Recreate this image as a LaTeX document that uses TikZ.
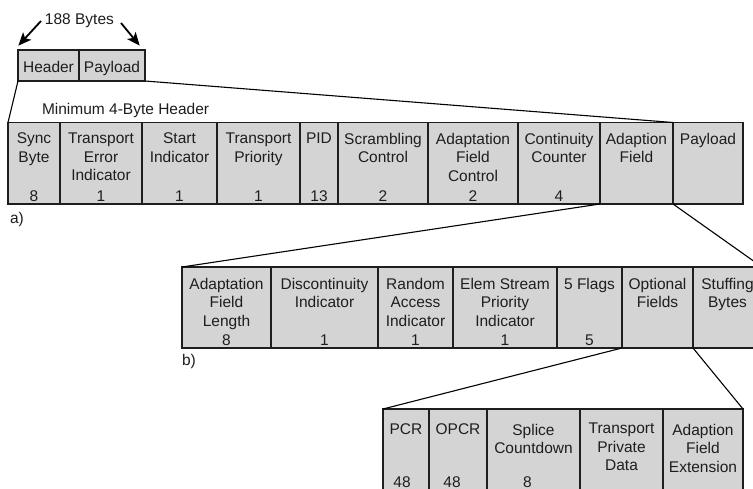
\documentclass[tikz,border=0pt]{standalone}
\usepackage{fontspec}
\setmainfont{Liberation Sans}
\usetikzlibrary{arrows.meta}

\definecolor{fieldfill}{HTML}{D4D4D4}
\definecolor{ink}{HTML}{1E1E1E}

% One field of a packet layout:
% #1 name, #2 left x, #3 right x, #4 top y, #5 bottom y,
% #6 field name, #7 bit count, #8 drop of the name below the top, #9 shift of the count
\newcommand\fieldcell[9]{%
  \pgfmathsetmacro\cellw{#3-#2}%
  \pgfmathsetmacro\cellh{#5-#4}%
  \node[fieldbox, minimum width=\cellw pt, minimum height=\cellh pt, anchor=north west] (#1) at (#2,#4) {};
  \node[fieldlabel] (#1-label) at ([yshift=-#8pt]#1.north) {#6};
  \ifx\relax#7\relax\else
    \node[fieldnum] (#1-num) at ([xshift=#9pt,yshift=2.5pt]#1.south) {#7};
  \fi
}

\begin{document}
\begin{tikzpicture}[x=1pt,y=-1pt,
  every node/.style={font=\fontsize{15.5}{18.5}\selectfont, text=ink, inner sep=0pt, outer sep=0pt},
  fieldbox/.style={draw=ink, fill=fieldfill, line width=1.5pt, rectangle},
  fieldlabel/.style={align=center, anchor=north},
  fieldnum/.style={anchor=base},
  caption/.style={anchor=base west},
  link/.style={draw=black, line width=1.1pt},
  pointer/.style={draw=black, line width=1.8pt, shorten >=0.5pt, -{Stealth[length=13pt,width=11pt,inset=3pt]}},
]
\useasboundingbox (0,0) rectangle (753,489);
\clip (0,0) rectangle (753,489);

% whole transport packet
\node[caption] (size) at (45,25) {188 Bytes};
\fieldcell{hdr}{18}{79}{50}{81}{Header}{}{11}{0}
\fieldcell{pay}{79}{145}{50}{81}{Payload}{}{11}{0}
\coordinate (sizeL) at (41,21);
\coordinate (sizeR) at (121,23);
\coordinate (payTip) at (140,46);
\coordinate (hdrTip) at (18,46);
\draw[pointer] (sizeL) -- (hdrTip);
\draw[pointer] (sizeR) -- (payTip);

% a) packet header
\node[caption] (minhdr) at (42,115) {Minimum 4-Byte Header};
\fieldcell{sync}{8}{60}{122.5}{204}{Sync\\Byte}{8}{10.5}{0}
\fieldcell{tei}{60}{142}{122.5}{204}{Transport\\Error\\Indicator}{1}{10.5}{0}
\fieldcell{start}{142}{217}{122.5}{204}{Start\\Indicator}{1}{10.5}{0}
\fieldcell{prio}{217}{300}{122.5}{204}{Transport\\Priority}{1}{10.5}{0}
\fieldcell{pid}{300}{338}{122.5}{204}{PID}{13}{10.5}{0}
\fieldcell{scr}{338}{428}{122.5}{204}{Scrambling\\Control}{2}{10.5}{0}
\fieldcell{afc}{428}{518}{122.5}{204}{Adaptation\\Field\\Control}{2}{10.5}{0}
\fieldcell{cc}{518}{600}{122.5}{204}{Continuity\\Counter}{4}{10.5}{0}
\fieldcell{adf}{600}{673}{122.5}{204}{Adaption\\Field}{}{10.5}{0}
\fieldcell{pl}{673}{743}{122.5}{204}{Payload}{}{10.5}{0}
\node[caption] (capA) at (10,224) {a)};

% b) adaptation field
\fieldcell{afl}{182}{271}{267}{348}{Adaptation\\Field\\Length}{8}{11}{0}
\fieldcell{disc}{271}{378}{267}{348}{Discontinuity\\Indicator}{1}{11}{0}
\fieldcell{rai}{378}{453}{267}{348}{Random\\Access\\Indicator}{1}{11}{0}
\fieldcell{esp}{453}{557}{267}{348}{Elem Stream\\Priority\\Indicator}{1}{11}{0}
\fieldcell{flags}{557}{622}{267}{348}{5 Flags}{5}{11}{0}
\fieldcell{opt}{622}{693}{267}{348}{Optional\\Fields}{}{11}{0}
\fieldcell{stuff}{693}{762}{267}{348}{Stuffing\\Bytes}{}{11}{0}
\node[caption] (capB) at (182,366) {b)};

% optional fields
\fieldcell{pcr}{383}{429}{409}{489.5}{PCR}{48}{15}{-4}
\fieldcell{opcr}{429}{487}{409}{489.5}{OPCR}{48}{15}{-6}
\fieldcell{splice}{487}{580}{409}{489.5}{Splice\\Countdown}{8}{15}{-6}
\fieldcell{tpd}{580}{663}{409}{489.5}{Transport\\Private\\Data}{}{14}{0}
\fieldcell{afx}{663}{743}{409}{489.5}{Adaption\\Field\\Extension}{}{15}{0}

% expansion lines
\draw[link] (hdr.south west) -- (sync.north west);
\draw[link] (pay.south east) -- (pl.north west);
\draw[link] (adf.south west) -- (afl.north west);
\draw[link] (adf.south east) -- (stuff.north east);
\draw[link] (flags.south east) -- (pcr.north west);
\draw[link] (opt.south east) -- (afx.north east);
\end{tikzpicture}
\end{document}
